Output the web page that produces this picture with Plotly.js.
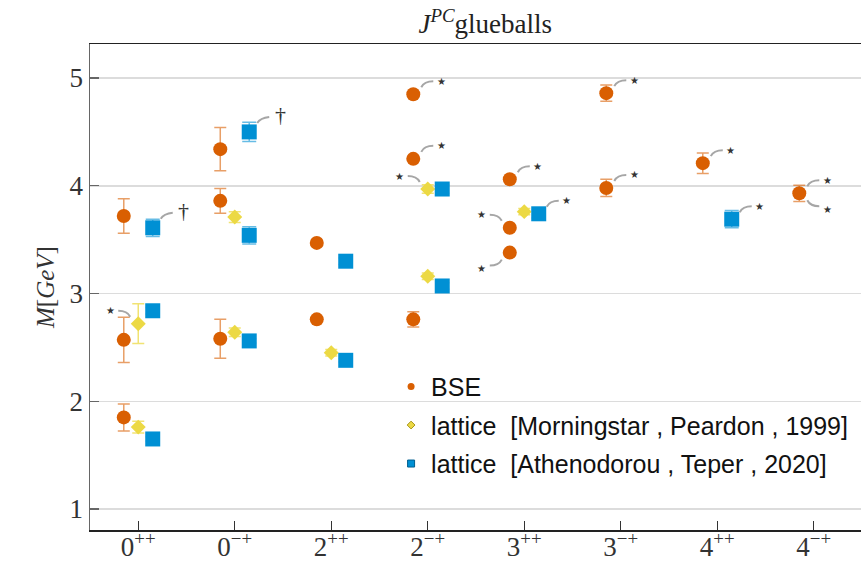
<!DOCTYPE html>
<html>
<head>
<meta charset="utf-8">
<script src="https://cdn.plot.ly/plotly-3.0.1.min.js"></script>
<style>
  html, body { margin: 0; padding: 0; overflow: hidden; background: #fff; }
  #chart { width: 872px; height: 562px; }
</style>
</head>
<body>
<div id="chart"></div>
<script>
// Glueball states J^PC along the horizontal axis
const categories = ['0++', '0-+', '2++', '2-+', '3++', '3-+', '4++', '4-+'];
const tickLabels = ['0<sup>++</sup>', '0<sup>\u2212+</sup>', '2<sup>++</sup>', '2<sup>\u2212+</sup>',
                    '3<sup>++</sup>', '3<sup>\u2212+</sup>', '4<sup>++</sup>', '4<sup>\u2212+</sup>'];

// Bethe-Salpeter (BSE) masses in GeV
const bseState = ['0++', '0++', '0++', '0-+', '0-+', '0-+', '2++', '2++', '2-+', '2-+', '2-+',
                  '3++', '3++', '3++', '3-+', '3-+', '4++', '4-+'];
const bseMass  = [1.85, 2.57, 3.72, 2.58, 3.86, 4.34, 2.76, 3.47, 2.76, 4.25, 4.85,
                  3.38, 3.61, 4.06, 3.98, 4.86, 4.21, 3.93];
const bseErr   = [0.125, 0.21, 0.16, 0.18, 0.115, 0.2, 0, 0, 0.07, 0, 0,
                  0, 0, 0, 0.08, 0.075, 0.095, 0.075];

// Lattice: Morningstar & Peardon 1999
const mpState = ['0++', '0++', '0-+', '0-+', '2++', '2-+', '2-+', '3++'];
const mpMass  = [1.76, 2.72, 2.64, 3.71, 2.45, 3.16, 3.97, 3.76];
const mpErr   = [0.055, 0.185, 0.04, 0.05, 0.03, 0.03, 0.04, 0.03];

// Lattice: Athenodorou & Teper 2020
const atState = ['0++', '0++', '0++', '0-+', '0-+', '0-+', '2++', '2++', '2-+', '2-+', '3++', '4++'];
const atMass  = [1.65, 2.84, 3.61, 2.56, 3.54, 4.50, 2.38, 3.30, 3.07, 3.97, 3.74, 3.69];
const atErr   = [0.02, 0.03, 0.08, 0.02, 0.08, 0.09, 0.015, 0.03, 0.03, 0.04, 0.04, 0.08];

// Horizontal shift of each series inside a category slot
const OFFSET = { bse: -0.15, mp: 0, at: 0.15 };
const COLORS = { bse: '#d95f02', mp: '#ecd944', at: '#0090d4' };

const xOf = (states, shift) => states.map(s => categories.indexOf(s) + shift);

const series = {
  bse: { x: xOf(bseState, OFFSET.bse), y: bseMass },
  mp:  { x: xOf(mpState, OFFSET.mp),  y: mpMass },
  at:  { x: xOf(atState, OFFSET.at),  y: atMass }
};

const traces = [
  {
    x: series.bse.x, y: bseMass, type: 'scatter', mode: 'markers', showlegend: false,
    marker: { symbol: 'circle', size: 14, color: COLORS.bse, line: { width: 0 } },
    error_y: { type: 'data', array: bseErr, visible: true, color: 'rgba(217,95,2,0.6)', thickness: 1.5, width: 6 },
    hoverinfo: 'y'
  },
  {
    x: series.mp.x, y: mpMass, type: 'scatter', mode: 'markers', showlegend: false,
    marker: { symbol: 'diamond', size: 11.5, color: COLORS.mp, line: { width: 0 } },
    error_y: { type: 'data', array: mpErr, visible: true, color: 'rgba(236,217,68,0.75)', thickness: 1.5, width: 6 },
    hoverinfo: 'y'
  },
  {
    x: series.at.x, y: atMass, type: 'scatter', mode: 'markers', showlegend: false,
    marker: { symbol: 'square', size: 15, color: COLORS.at, line: { width: 0 } },
    error_y: { type: 'data', array: atErr, visible: true, color: 'rgba(0,144,212,0.6)', thickness: 1.5, width: 7 },
    hoverinfo: 'y'
  },
  // legend keys (small outlined symbols)
  { x: [null], y: [null], type: 'scatter', mode: 'markers', name: 'BSE', legendgroup: 'a',
    marker: { symbol: 'circle', size: 7, color: COLORS.bse, line: { width: 0 } } },
  { x: [null], y: [null], type: 'scatter', mode: 'markers', name: 'lattice\u00a0 [Morningstar\u00a0, Peardon\u00a0, 1999]', legendgroup: 'b',
    marker: { symbol: 'diamond', size: 6, color: COLORS.mp, line: { width: 1, color: '#a8961a' } } },
  { x: [null], y: [null], type: 'scatter', mode: 'markers', name: 'lattice\u00a0 [Athenodorou\u00a0, Teper\u00a0, 2020]', legendgroup: 'c',
    marker: { symbol: 'square', size: 7, color: COLORS.at, line: { width: 1, color: '#005f8f' } } }
];

// Marks attached to individual points: which series/point, which side, which glyph
const notes = [
  { s: 'bse', i: 9,  side: 'ur', mark: 'star' },
  { s: 'bse', i: 10, side: 'ur', mark: 'star' },
  { s: 'bse', i: 11, side: 'dl', mark: 'star' },
  { s: 'bse', i: 12, side: 'ul', mark: 'star' },
  { s: 'bse', i: 13, side: 'ur', mark: 'star' },
  { s: 'bse', i: 14, side: 'ur', mark: 'star' },
  { s: 'bse', i: 15, side: 'ur', mark: 'star' },
  { s: 'bse', i: 16, side: 'ur', mark: 'star' },
  { s: 'bse', i: 17, side: 'ur', mark: 'star' },
  { s: 'bse', i: 17, side: 'dr', mark: 'star' },
  { s: 'mp',  i: 1,  side: 'ul', mark: 'star' },
  { s: 'mp',  i: 6,  side: 'ul', mark: 'star' },
  { s: 'at',  i: 10, side: 'ur', mark: 'star' },
  { s: 'at',  i: 11, side: 'ur', mark: 'star' },
  { s: 'at',  i: 2,  side: 'ur', mark: 'dagger' },
  { s: 'at',  i: 5,  side: 'ur', mark: 'dagger' }
];

const shapes = [];
const annotations = [];
notes.forEach(n => {
  const px = series[n.s].x[n.i];
  const py = series[n.s].y[n.i];
  const sx = n.side.includes('l') ? -1 : 1;
  const sy = n.side.includes('d') ? -1 : 1;
  const dag = n.mark === 'dagger';
  const x0 = 8 * sx, y0 = (dag ? 9 : 7) * sy;
  const cx = 11 * sx, cy = (dag ? 14 : 13) * sy;
  const x1 = 20 * sx, y1 = (dag ? 15 : 13) * sy;
  shapes.push({
    type: 'path', xref: 'x', yref: 'y', xsizemode: 'pixel', ysizemode: 'pixel',
    xanchor: px, yanchor: py,
    path: `M${x0},${y0} Q${cx},${cy} ${x1},${y1}`,
    line: { color: '#a6a6a6', width: 2 }
  });
  annotations.push({
    x: px, y: py, xref: 'x', yref: 'y', showarrow: false,
    xshift: (dag ? 31 : 28) * sx,
    yshift: dag ? 17 : (sy > 0 ? 13 : -16),
    text: dag ? '\u2020' : '\u2605',
    font: dag ? { family: 'Liberation Serif', size: 22, color: '#333' }
              : { family: 'DejaVu Sans', size: 10, color: '#333' }
  });
});

const layout = {
  width: 872, height: 562,
  margin: { l: 90, r: 10, t: 44, b: 32 },
  paper_bgcolor: '#fff', plot_bgcolor: '#fff',
  title: {
    text: '<i>J</i><sup><i>PC</i></sup>glueballs',
    font: { family: 'Liberation Serif', size: 27, color: '#222' },
    x: 0.512, xref: 'paper', xanchor: 'center',
    y: 0.958, yref: 'container', yanchor: 'middle'
  },
  xaxis: {
    range: [-0.5, 7.5], tickmode: 'array',
    tickvals: categories.map((c, i) => i), ticktext: tickLabels,
    ticks: 'inside', ticklen: 9, tickwidth: 1.2, tickcolor: '#333',
    ticklabelstandoff: -8,
    showgrid: false, zeroline: false,
    showline: true, linecolor: '#222', linewidth: 1.5, mirror: true,
    tickfont: { family: 'Liberation Serif', size: 27, color: '#333' }
  },
  yaxis: {
    range: [0.805, 5.316], tickvals: [1, 2, 3, 4, 5],
    ticks: 'inside', ticklen: 9, tickwidth: 1.2, tickcolor: '#666',
    showgrid: true, gridcolor: '#dcdcdc', gridwidth: 1.5, zeroline: false,
    showline: true, linecolor: '#666', linewidth: 1.5,
    tickfont: { family: 'Liberation Serif', size: 27, color: '#333' },
    title: { text: '<i>M</i>[<i>GeV</i>]', standoff: 8,
             font: { family: 'Liberation Serif', size: 25, color: '#333' } }
  },
  legend: {
    x: 0.39, y: 0.342, xanchor: 'left', yanchor: 'top',
    bgcolor: 'rgba(0,0,0,0)', borderwidth: 0, tracegroupgap: 3,
    font: { family: 'Liberation Sans', size: 25, color: '#111' }
  },
  shapes: shapes,
  annotations: annotations,
  showlegend: true
};

Plotly.newPlot('chart', traces, layout, { displayModeBar: false, staticPlot: true });
</script>
</body>
</html>
